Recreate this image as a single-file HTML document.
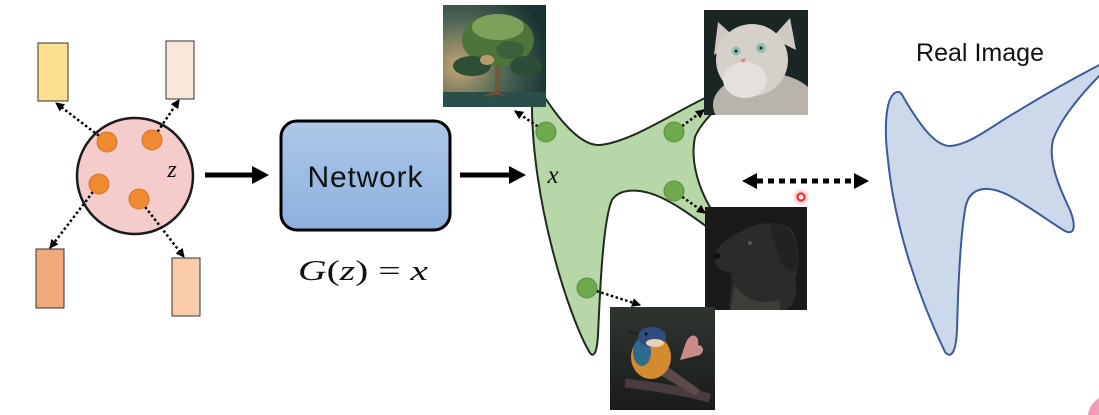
<!DOCTYPE html>
<html><head><meta charset="utf-8"><style>
html,body{margin:0;padding:0;background:#fff;width:1099px;height:415px;overflow:hidden;}
svg{display:block;overflow:hidden;}
</style></head><body>
<svg width="1099" height="415" viewBox="0 0 1099 415" xmlns="http://www.w3.org/2000/svg">
<defs>
<marker id="ah" markerWidth="9" markerHeight="9" refX="8" refY="4.5" orient="auto" markerUnits="userSpaceOnUse"><path d="M0,0 L9,4.5 L0,9 z" fill="#000"/></marker>
<linearGradient id="net" x1="0" y1="0" x2="0" y2="1"><stop offset="0" stop-color="#adc8e8"/><stop offset="1" stop-color="#8db0de"/></linearGradient>
<radialGradient id="treebg" cx="0.15" cy="0.6" r="0.9"><stop offset="0" stop-color="#c4a674"/><stop offset="0.5" stop-color="#4f6656"/><stop offset="1" stop-color="#173231"/></radialGradient>
<linearGradient id="birdbg" x1="0" y1="0" x2="0" y2="1"><stop offset="0" stop-color="#2e352f"/><stop offset="1" stop-color="#1a1c1a"/></linearGradient>
<clipPath id="cTree"><rect x="443" y="5" width="103" height="102"/></clipPath>
<clipPath id="cCat"><rect x="704" y="10" width="104" height="105"/></clipPath>
<clipPath id="cDog"><rect x="705" y="207" width="102" height="103"/></clipPath>
<clipPath id="cBird"><rect x="610" y="307" width="105" height="103"/></clipPath>
<clipPath id="cPage"><rect x="0" y="0" width="1099" height="415"/></clipPath>
<radialGradient id="glow"><stop offset="0" stop-color="#ff4040" stop-opacity="0.7"/><stop offset="1" stop-color="#ff4040" stop-opacity="0"/></radialGradient>
</defs>
<g clip-path="url(#cPage)">
<!-- Left latent space -->
<rect x="38" y="43" width="30" height="58" fill="#fde08f" stroke="#333" stroke-width="1"/>
<rect x="166" y="41" width="28" height="58" fill="#f9e6da" stroke="#333" stroke-width="1"/>
<rect x="36" y="249" width="28" height="59" fill="#f0a97a" stroke="#333" stroke-width="1"/>
<rect x="172" y="258" width="28" height="58" fill="#f9cbaa" stroke="#333" stroke-width="1"/>

<circle cx="135" cy="176" r="58" fill="#f4cccc" stroke="#1a1a1a" stroke-width="2.5"/>
<g stroke="#000" stroke-width="2.5" stroke-dasharray="2.5 2.5" fill="none" marker-end="url(#ah)">
<line x1="107" y1="142" x2="56" y2="103"/>
<line x1="152" y1="140" x2="179" y2="100"/>
<line x1="99" y1="184" x2="50" y2="248"/>
<line x1="139" y1="199" x2="184" y2="257"/>
</g>
<g fill="#ee8a30" stroke="#d9742a" stroke-width="1">
<circle cx="107" cy="142" r="10"/>
<circle cx="152" cy="140" r="10"/>
<circle cx="99" cy="184" r="10"/>
<circle cx="139" cy="199" r="10"/>
</g>
<text x="172" y="177" font-family="Liberation Serif, serif" font-style="italic" font-size="24" text-anchor="middle" fill="#111">z</text>

<!-- arrow 1 -->
<line x1="205" y1="175" x2="254" y2="175" stroke="#000" stroke-width="5"/>
<path d="M252,166 L269,175 L252,184 z" fill="#000"/>

<!-- Network box -->
<rect x="281" y="121" width="169" height="109" rx="16" ry="16" fill="url(#net)" stroke="#000" stroke-width="3"/>
<text x="365" y="187" font-family="Liberation Sans, sans-serif" font-size="30" text-anchor="middle" fill="#111" textLength="115">Network</text>
<text x="298" y="280" font-family="Liberation Serif, serif" font-size="28" fill="#111" textLength="130" lengthAdjust="spacingAndGlyphs"><tspan font-style="italic">G</tspan>(<tspan font-style="italic">z</tspan>) = <tspan font-style="italic">x</tspan></text>

<!-- arrow 2 -->
<line x1="460" y1="175" x2="511" y2="175" stroke="#000" stroke-width="5"/>
<path d="M509,166 L526,175 L509,184 z" fill="#000"/>

<!-- Green blob -->
<path d="M532,95 C530,200 570,320 590,353 C594,358 597,352 598,335 C600,290 603,220 612,200 C620,188 640,188 660,197 C680,206 700,222 725,240 L715,215 C698,190 690,160 695,137 C700,125 710,115 725,100 L705,98 C670,115 630,142 600,145 C585,146 565,130 540,90 Z" fill="#b7d7a8" stroke="#1e2b1e" stroke-width="2"/>
<text x="553" y="183" font-family="Liberation Serif, serif" font-style="italic" font-size="25" text-anchor="middle" fill="#111">x</text>

<g stroke="#000" stroke-width="2.5" stroke-dasharray="2.5 2.5" fill="none" marker-end="url(#ah)">
<line x1="546" y1="132" x2="515" y2="111"/>
<line x1="674" y1="132" x2="704" y2="110"/>
<line x1="674" y1="191" x2="705" y2="213"/>
<line x1="587" y1="288" x2="640" y2="305"/>
</g>
<g fill="#6fa84d" stroke="#5a9040" stroke-width="1">
<circle cx="546" cy="132" r="10"/>
<circle cx="674" cy="132" r="10"/>
<circle cx="674" cy="191" r="10"/>
<circle cx="587" cy="288" r="10"/>
</g>

<!-- Tree image -->
<g clip-path="url(#cTree)">
<rect x="443" y="5" width="103" height="102" fill="url(#treebg)"/>
<rect x="443" y="92" width="103" height="15" fill="#2a4e4a"/>
<path d="M497,95 C498,80 497,65 499,52" stroke="#6b5a40" stroke-width="5" fill="none"/>
<path d="M490,97 L497,90 L505,97 M484,96 L497,92" stroke="#7a4a35" stroke-width="1.5" fill="none"/>
<ellipse cx="498" cy="40" rx="36" ry="26" fill="#4d7439"/>
<ellipse cx="498" cy="27" rx="26" ry="13" fill="#7da05a"/>
<ellipse cx="472" cy="66" rx="19" ry="10" fill="#2e4e36"/>
<ellipse cx="526" cy="66" rx="16" ry="10" fill="#2d4d36"/>
<ellipse cx="510" cy="50" rx="14" ry="9" fill="#3c5e3a"/>
<ellipse cx="487" cy="60" rx="7" ry="5" fill="#b99c6c"/>
</g>

<!-- Cat image -->
<g clip-path="url(#cCat)">
<rect x="704" y="10" width="104" height="105" fill="#1b2624"/>
<ellipse cx="765" cy="105" rx="52" ry="32" fill="#b9b3ae"/>
<path d="M718,22 L738,40 L714,55 z" fill="#cfc9c4"/>
<path d="M790,18 L796,50 L772,38 z" fill="#cfc9c4"/>
<ellipse cx="752" cy="60" rx="36" ry="36" fill="#d6d0cb"/>
<ellipse cx="745" cy="80" rx="22" ry="18" fill="#e4e0dc"/>
<circle cx="736" cy="51" r="4.5" fill="#8cbfae"/>
<circle cx="761" cy="48" r="5" fill="#8cbfae"/>
<circle cx="736" cy="51" r="1.5" fill="#222"/>
<circle cx="761" cy="48" r="1.5" fill="#222"/>
<path d="M740,60 L746,58 L744,63 z" fill="#d08a90"/>
</g>

<!-- Dog image -->
<g clip-path="url(#cDog)">
<rect x="705" y="207" width="102" height="103" fill="#1b1a1a"/>
<path d="M715,258 C714,248 725,240 740,232 C755,222 775,220 790,228 C800,240 800,265 795,280 C800,300 790,310 780,312 L730,312 C728,295 735,282 730,272 C722,272 715,268 715,258 Z" fill="#2c2b2a"/>
<path d="M770,225 C790,222 800,240 797,268 C792,275 782,270 778,255 C775,240 770,232 770,225 Z" fill="#232222"/>
<path d="M735,285 C745,300 760,305 780,300 L780,312 L730,312 Z" fill="#3e3d3a"/>
<ellipse cx="717" cy="256" rx="4" ry="3" fill="#111"/>
<circle cx="750" cy="243" r="2" fill="#555"/>
</g>

<!-- Bird image -->
<g clip-path="url(#cBird)">
<rect x="610" y="307" width="105" height="103" fill="url(#birdbg)"/>
<path d="M625,383 C650,386 680,390 710,398" stroke="#4a3b3e" stroke-width="9" fill="none"/>
<path d="M665,365 L700,390 L696,396 L660,375 z" fill="#5c4a4c"/>
<path d="M685,345 C690,330 700,335 698,345 C702,345 706,350 700,355 L680,360 z" fill="#c98a8a"/>
<ellipse cx="651" cy="357" rx="20" ry="22" fill="#d48a2e"/>
<ellipse cx="642" cy="352" rx="9" ry="14" fill="#2d6a8e"/>
<ellipse cx="652" cy="337" rx="14" ry="10" fill="#2f4c7e"/>
<ellipse cx="655" cy="343" rx="9" ry="4" fill="#e6d4b0"/>
<path d="M638,334 L628,332" stroke="#222" stroke-width="2"/>
<circle cx="646" cy="334" r="1.5" fill="#111"/>
</g>

<!-- Double dotted arrow -->
<line x1="757" y1="181" x2="855" y2="181" stroke="#000" stroke-width="5" stroke-dasharray="6 5"/>
<path d="M742,181 L757,173 L757,189 z" fill="#000"/>
<path d="M869,181 L854,173 L854,189 z" fill="#000"/>

<!-- red pointer -->
<circle cx="801" cy="197" r="9" fill="url(#glow)"/>
<circle cx="801" cy="197" r="3.5" fill="#fff" stroke="#ff2020" stroke-width="2"/>

<!-- Real Image -->
<text x="916" y="61" font-family="Liberation Sans, sans-serif" font-size="25" fill="#111" textLength="128">Real Image</text>
<path d="M897,92 C885,95 884,130 888,160 C895,230 920,300 945,352 C952,360 956,350 957,330 C958,290 960,240 965,210 C968,188 985,183 1010,196 C1030,207 1050,222 1065,231 C1075,236 1076,225 1070,210 C1058,185 1048,160 1053,140 C1060,120 1080,95 1105,70 L1105,62 C1070,80 1040,97 1000,122 C980,135 965,145 950,146 C935,146 920,125 905,100 C902,94 900,91 897,92 Z" fill="#ccd9eb" stroke="#3d5a98" stroke-width="2"/>

<!-- pink corner -->
<path d="M1088,415 A24,24 0 0 1 1099,398 L1099,415 Z" fill="#f29ab7"/>
</g>
</svg>
</body></html>
